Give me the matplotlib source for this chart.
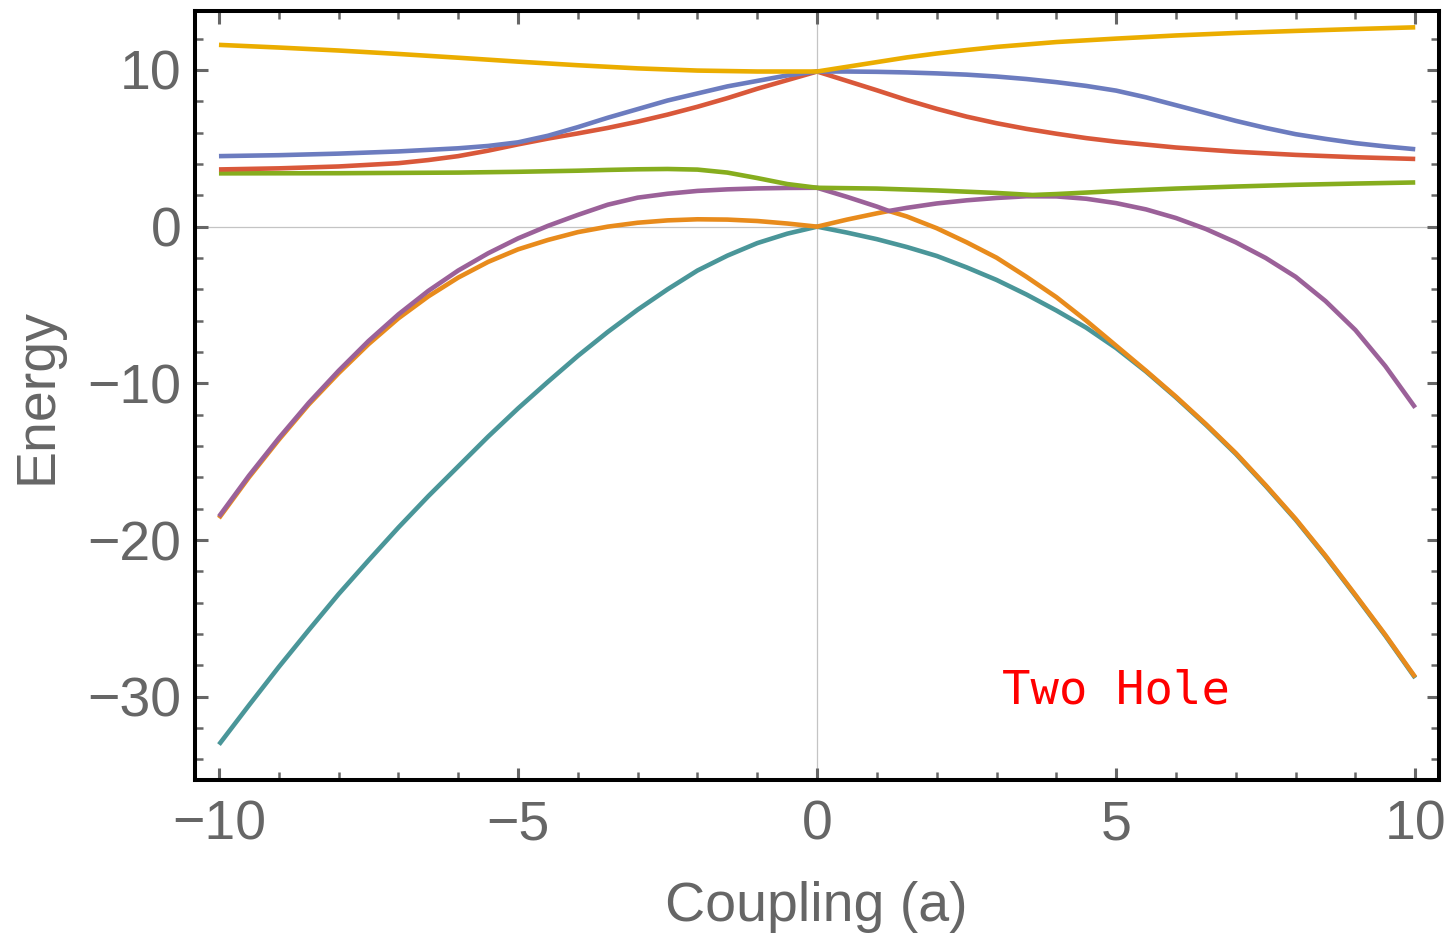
import matplotlib
matplotlib.use("Agg")
import matplotlib.pyplot as plt
from matplotlib.ticker import MultipleLocator

# energy levels (coupling a, energy)
x_yellow = [-10, -9, -8, -7, -6, -5, -4, -3, -2, -1, 0, 0.5, 1, 1.5, 2, 2.5, 3, 4, 5,
            6, 7, 8, 9, 10]
yellow = [11.6, 11.43, 11.24, 11.02, 10.78, 10.53, 10.3, 10.1, 9.96, 9.9, 9.9, 10.2,
          10.5, 10.8, 11.05, 11.27, 11.47, 11.78, 12.0, 12.2, 12.36, 12.49, 12.61, 12.72]

x_blue = [-10, -9, -8, -7, -6, -5.5, -5, -4.5, -4, -3.5, -3, -2.5, -2, -1.5, -1, -0.5,
          0, 0.5, 1, 1.5, 2, 2.5, 3, 3.5, 4, 4.5, 5, 5.5, 6, 6.5, 7, 7.5, 8, 8.5, 9,
          9.5, 10]
blue = [4.5, 4.56, 4.66, 4.8, 5.0, 5.15, 5.38, 5.8, 6.35, 6.95, 7.5, 8.05, 8.5, 8.95,
        9.3, 9.65, 9.9, 9.9, 9.88, 9.84, 9.78, 9.7, 9.58, 9.42, 9.22, 8.98, 8.68, 8.25,
        7.75, 7.25, 6.75, 6.3, 5.9, 5.6, 5.33, 5.12, 4.94]

x_red = [-10, -9, -8, -7, -6.5, -6, -5.5, -5, -4.5, -4, -3.5, -3, -2.5, -2, -1.5, -1,
         -0.5, 0, 0.5, 1, 1.5, 2, 2.5, 3, 3.5, 4, 4.5, 5, 6, 7, 8, 9, 10]
red = [3.65, 3.72, 3.84, 4.05, 4.25, 4.5, 4.85, 5.25, 5.62, 5.95, 6.3, 6.7, 7.15, 7.65,
       8.2, 8.8, 9.35, 9.9, 9.3, 8.7, 8.08, 7.52, 7.02, 6.6, 6.24, 5.93, 5.65, 5.42,
       5.05, 4.78, 4.58, 4.43, 4.32]

x_green = [-10, -8, -6, -5, -4, -3.5, -3, -2.5, -2, -1.5, -1, -0.5, 0, 1, 2, 3, 3.6, 4,
           5, 6, 7, 8, 9, 10]
green = [3.4, 3.41, 3.45, 3.5, 3.57, 3.62, 3.66, 3.68, 3.64, 3.45, 3.1, 2.72, 2.48, 2.43,
         2.31, 2.15, 2.02, 2.08, 2.27, 2.43, 2.56, 2.67, 2.75, 2.82]

x_branch = [-10, -9.5, -9, -8.5, -8, -7.5, -7, -6.5, -6, -5.5, -5, -4.5, -4, -3.5, -3,
            -2.5, -2, -1.5, -1, -0.5, 0, 0.5, 1, 1.2, 1.5, 2, 2.5, 3, 3.5, 4, 4.5, 5,
            5.5, 6, 6.5, 7, 7.5, 8, 8.5, 9, 9.5, 10]
purple = [-18.5, -15.9, -13.5, -11.25, -9.2, -7.3, -5.6, -4.1, -2.8, -1.7, -0.75, 0.05,
          0.75, 1.4, 1.85, 2.1, 2.28, 2.38, 2.44, 2.47, 2.48, 1.9, 1.28, 1.0, 1.2,
          1.48, 1.68, 1.83, 1.94, 1.93, 1.78, 1.5, 1.1, 0.55, -0.15, -1.0, -2.0, -3.2,
          -4.75, -6.6, -8.9, -11.55]
orange = [-18.6, -16.0, -13.6, -11.35, -9.35, -7.5, -5.85, -4.45, -3.25, -2.25, -1.45,
          -0.85, -0.35, 0.0, 0.25, 0.4, 0.47, 0.45, 0.36, 0.2, 0.0, 0.45, 0.85, 1.0,
          0.65, -0.1, -1.0, -1.98, -3.2, -4.5, -6.0, -7.6, -9.2, -10.85, -12.6, -14.45,
          -16.5, -18.65, -21.0, -23.5, -26.05, -28.75]

x_teal = [-10, -9.5, -9, -8.5, -8, -7.5, -7, -6.5, -6, -5.5, -5, -4.5, -4, -3.5, -3,
          -2.5, -2, -1.5, -1, -0.5, 0, 0.5, 1, 1.5, 2, 2.5, 3, 3.5, 4, 4.5, 5, 5.5, 6,
          6.5, 7, 7.5, 8, 8.5, 9, 9.5, 10]
teal = [-33.05, -30.55, -28.1, -25.75, -23.45, -21.3, -19.2, -17.2, -15.3, -13.4, -11.6,
        -9.9, -8.25, -6.72, -5.3, -4.0, -2.8, -1.85, -1.05, -0.45, 0, -0.38, -0.8, -1.3,
        -1.87, -2.6, -3.4, -4.33, -5.35, -6.45, -7.75, -9.25, -10.9, -12.65, -14.5,
        -16.55, -18.7, -21.05, -23.55, -26.1, -28.8]

gray = "#666666"
plt.rcParams["font.family"] = ["Liberation Sans", "DejaVu Sans"]

fig = plt.figure(figsize=(14.49, 9.34), dpi=100)
ax = fig.add_axes([0.1346, 0.1649, 0.9928 - 0.1346, 0.9877 - 0.1649])

ax.axhline(0, color="#c4c4c4", lw=0.9, zorder=1)
ax.axvline(0, color="#c4c4c4", lw=0.9, zorder=1)

style = dict(lw=3.3, solid_joinstyle="round", solid_capstyle="butt")
ax.plot(x_teal, teal, color="#4A9699", zorder=2, **style)
ax.plot(x_branch, orange, color="#E88B1C", zorder=3, **style)
ax.plot(x_branch, purple, color="#9B6199", zorder=4, **style)
ax.plot(x_green, green, color="#86AD1E", zorder=5, **style)
ax.plot(x_red, red, color="#D9583A", zorder=6, **style)
ax.plot(x_blue, blue, color="#6C7CBF", zorder=7, **style)
ax.plot(x_yellow, yellow, color="#EBAD00", zorder=8, **style)

ax.set_xlim(-10.40, 10.39)
ax.set_ylim(-35.31, 13.73)

ax.xaxis.set_major_locator(MultipleLocator(5))
ax.xaxis.set_minor_locator(MultipleLocator(1))
ax.yaxis.set_major_locator(MultipleLocator(10))
ax.yaxis.set_minor_locator(MultipleLocator(2))
ax.tick_params(which="both", direction="in", top=True, right=True, color=gray)
ax.tick_params(which="major", length=9, width=2.2, labelsize=40, labelcolor=gray)
ax.tick_params(which="minor", length=5.5, width=1.8)
ax.tick_params(axis="x", which="major", pad=14)
ax.tick_params(axis="y", which="major", pad=10)

for s in ax.spines.values():
    s.set_linewidth(2.9)
    s.set_color("black")
    s.set_zorder(10)

ax.set_xlabel("Coupling (a)", fontsize=40, color=gray, labelpad=21)
ax.set_ylabel("Energy", fontsize=40, color=gray, labelpad=17)

ax.text(5, -30.4, "Two Hole", color="red", fontsize=34, family="DejaVu Sans Mono",
        ha="center", va="baseline")

fig.savefig("out.png", dpi=100)
